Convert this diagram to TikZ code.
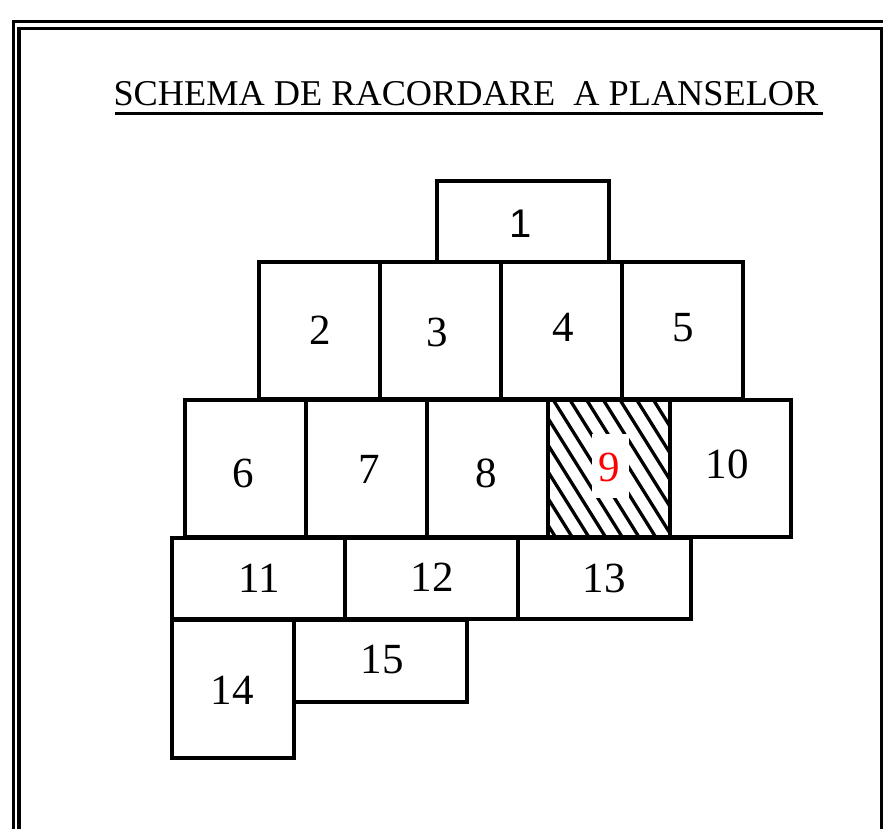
\documentclass[tikz,border=0pt]{standalone}
\usepackage{fontspec}
\setmainfont{Liberation Serif}
\newfontfamily\arialfont{Liberation Sans}
\begin{document}
\begin{tikzpicture}[x=1pt,y=-1pt, line width=3.8pt, line join=miter,
  num/.style={font=\fontsize{43}{46}\selectfont, inner sep=0pt},
  hatchline/.style={line width=3.3pt},
  frame/.style={line width=3.4pt}]
\useasboundingbox (0,0) rectangle (883,828);
% frame
\begin{scope}
\clip (0,0) rectangle (883,828);
\draw[frame] (13.5,21.5) rectangle (895,840);
\draw[frame] (19,28.5) rectangle (882,835);
\end{scope}
% title
\node[font=\fontsize{36.3}{40}\selectfont, inner sep=0pt, anchor=base] (title) at (466,105) {SCHEMA DE RACORDARE~~A PLANSELOR};
\draw[frame] (115,113.5) -- (823,113.5);
% hatch in box 9
\begin{scope}
\clip (548,400) rectangle (670,537);
\foreach \k in {-6,...,8} {
  \draw[hatchline] (553.3+16.7*\k,400) -- ++(100,160);
}
\fill[white] (592,434) rectangle (629,498);
\end{scope}
% boxes
\draw (437,181) rectangle (609,262);
\draw (259,262) rectangle (380,399);
\draw (380,262) rectangle (501,399);
\draw (501,262) rectangle (622,399);
\draw (622,262) rectangle (743,399);
\draw (185,400) rectangle (306,537);
\draw (306,400) rectangle (427,537);
\draw (427,400) rectangle (548,537);
\draw (548,400) rectangle (670,537);
\draw (670,400) rectangle (791,537);
\draw (172,538) rectangle (345,619);
\draw (345,538) rectangle (518,619);
\draw (518,538) rectangle (691,619);
\draw (172,620) rectangle (294,758);
\draw (294,620) rectangle (467,702);
% labels
\node[inner sep=0pt, font=\arialfont\fontsize{40}{44}\selectfont] (t1) at (521,224) {1};
\node[num] (t2) at (320,330) {2};
\node[num] (t3) at (437,332) {3};
\node[num] (t4) at (563,327) {4};
\node[num] (t5) at (683,328) {5};
\node[num] (t6) at (243,473) {6};
\node[num] (t7) at (369,469) {7};
\node[num] (t8) at (486,473) {8};
\node[num, text=red] (t9) at (609,467) {9};
\node[num] (t10) at (727,464) {10};
\node[num] (t11) at (259,578) {11};
\node[num] (t12) at (432,577) {12};
\node[num] (t13) at (604,578) {13};
\node[num] (t14) at (232,690) {14};
\node[num] (t15) at (382,660) {15};
\end{tikzpicture}
\end{document}
